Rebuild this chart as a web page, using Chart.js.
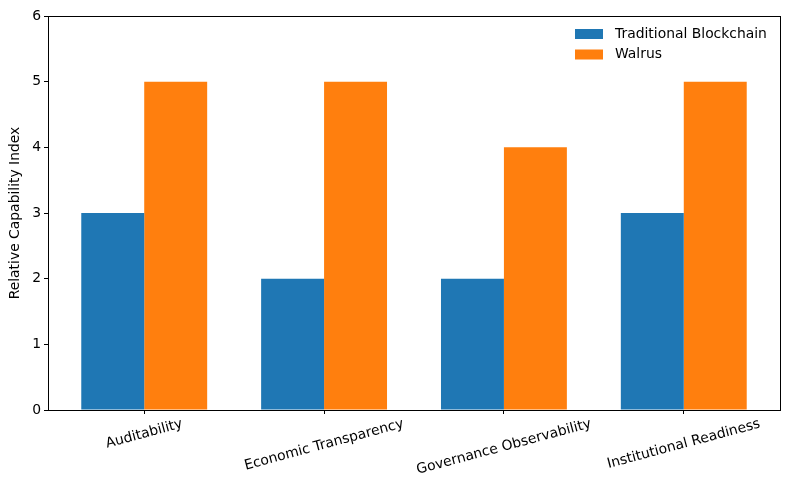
<!DOCTYPE html>
<html>
<head>
<meta charset="utf-8">
<script src="https://cdn.jsdelivr.net/npm/chart.js@4.4.1/dist/chart.umd.min.js"></script>
<style>
  html, body { margin: 0; padding: 0; background: #fff; }
  #wrap { width: 790px; height: 490px; }
</style>
</head>
<body>
<div id="wrap"><canvas id="capability-chart"></canvas></div>
<script>
// values
const categories = ['Auditability', 'Economic Transparency', 'Governance Observability', 'Institutional Readiness'];
const traditional = [3, 2, 2, 3];
const walrus = [5, 5, 4, 5];
const y_ticks = [0, 1, 2, 3, 4, 5, 6];

const FONT = 'DejaVu Sans';
const FS = 13.9;
Chart.defaults.font.family = FONT;
Chart.defaults.font.size = FS;
Chart.defaults.color = '#000';

// frame + rotated category labels + legend in the top right corner
const mpl_look = {
    id: 'mpl_look',
    afterDraw(chart) {
        let ctx = chart.ctx;
        let area = chart.chartArea;
        ctx.save();
        ctx.strokeStyle = '#000';
        ctx.lineWidth = 1;
        ctx.strokeRect(Math.round(area.left) + 0.5, Math.round(area.top) + 0.5,
            Math.round(area.right - area.left), Math.round(area.bottom - area.top));

        // x labels, rotated 15 deg, centred under the tick
        let xs = chart.scales.x;
        let ang = 15 * Math.PI / 180;
        ctx.font = FS + 'px ' + FONT;
        ctx.fillStyle = '#000';
        ctx.textAlign = 'center';
        ctx.textBaseline = 'middle';
        categories.forEach((lab, i) => {
            let w = ctx.measureText(lab).width;
            let h = 16;
            let bh = w * Math.sin(ang) + h * Math.cos(ang);
            let cx = xs.getPixelForValue(i);
            let cy = area.bottom + 6 + bh / 2;
            ctx.save();
            ctx.translate(cx, cy);
            ctx.rotate(-ang);
            ctx.fillText(lab, 0, 0);
            ctx.restore();
        });

        // legend
        let lx = area.right - 205;
        let ly = area.top + 13;
        ctx.textAlign = 'left';
        chart.data.datasets.forEach((ds, i) => {
            let y = ly + i * 20.5;
            ctx.fillStyle = ds.backgroundColor;
            ctx.fillRect(lx, y, 28, 10);
            ctx.fillStyle = '#000';
            ctx.font = FS + 'px ' + FONT;
            ctx.fillText(ds.label, lx + 40, y + 5);
        });
        ctx.restore();
    }
};

let ctx = document.getElementById('capability-chart');
let chart = new Chart(ctx, {
    type: 'bar',
    data: {
        datasets: [
            {
                label: 'Traditional Blockchain',
                data: categories.map((c, i) => ({ x: i, y: traditional[i] })),
                backgroundColor: '#1f77b4',
                borderWidth: 0
            },
            {
                label: 'Walrus',
                data: categories.map((c, i) => ({ x: i, y: walrus[i] })),
                backgroundColor: '#ff7f0e',
                borderWidth: 0
            }
        ]
    },
    options: {
        responsive: true,
        maintainAspectRatio: false,
        animation: false,
        categoryPercentage: 0.7,
        barPercentage: 1.0,
        layout: { padding: { left: 0, right: 10, top: 16, bottom: 0 } },
        scales: {
            x: {
                type: 'linear',
                offset: false,
                min: -0.535,
                max: 3.535,
                afterBuildTicks: (scale) => {
                    scale.ticks = categories.map((c, i) => ({ value: i }));
                },
                afterFit: (scale) => { scale.height = 80; },
                ticks: { display: false },
                grid: { offset: false, drawOnChartArea: false, drawTicks: true, tickLength: 4, color: '#000' },
                border: { display: true, color: '#000' }
            },
            y: {
                min: 0,
                max: 6,
                afterBuildTicks: (scale) => {
                    scale.ticks = y_ticks.map(v => ({ value: v }));
                },
                afterFit: (scale) => { scale.width = 48; },
                ticks: { padding: 3 },
                grid: { drawOnChartArea: false, drawTicks: true, tickLength: 4, color: '#000' },
                border: { display: true, color: '#000' },
                title: {
                    display: true,
                    text: 'Relative Capability Index',
                    padding: { top: 7, bottom: 0 }
                }
            }
        },
        plugins: {
            legend: { display: false },
            tooltip: { enabled: false }
        }
    },
    plugins: [mpl_look]
});
</script>
</body>
</html>
